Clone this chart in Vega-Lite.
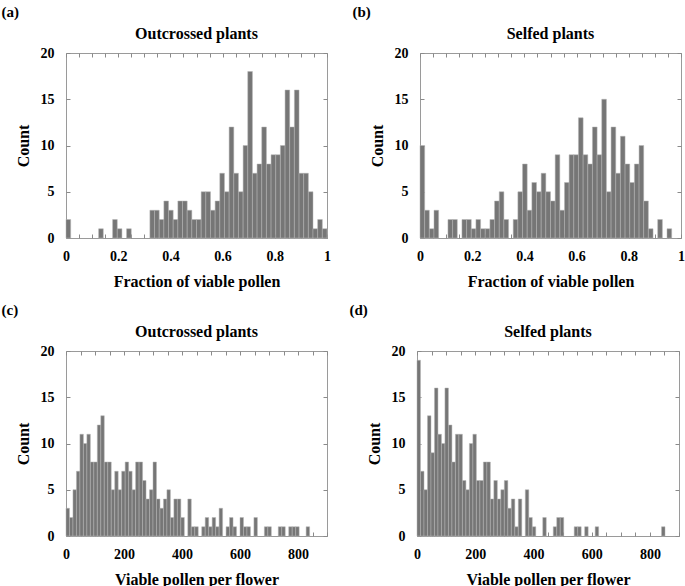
{
  "$schema": "https://vega.github.io/schema/vega-lite/v6.json",
  "background": "white",
  "padding": {"left": 1, "top": 4, "right": 1, "bottom": 0},
  "config": {
    "font": "Liberation Serif",
    "view": {"stroke": "#9a9a9a", "strokeWidth": 1},
    "scale": {"continuousPadding": 0},
    "axis": {
      "domain": false, "grid": false, "ticks": true, "tickSize": -4, "tickColor": "#8a8a8a", "tickWidth": 1,
      "labelFont": "Liberation Serif", "labelFontWeight": "bold", "labelFontSize": 14, "labelColor": "black",
      "labelOverlap": false, "labelFlush": false,
      "titleFont": "Liberation Serif", "titleFontWeight": "bold", "titleFontSize": 16, "titleColor": "black", "titlePadding": 9
    },
    "axisX": {"labelPadding": 15, "titlePadding": 10},
    "axisY": {"labelPadding": 16},
    "title": {"font": "Liberation Serif", "fontWeight": "bold", "fontSize": 16, "color": "black", "offset": 4},
    "bar": {"fill": "#767676", "stroke": "#b4b4b4", "strokeWidth": 0.5},
    "concat": {"spacing": 0}
  },
  "datasets": {
    "a": [
      {"lo":0,"hi":0.0179,"n":2},{"lo":0.125,"hi":0.1429,"n":1},{"lo":0.1786,"hi":0.1964,"n":2},{"lo":0.1964,"hi":0.2143,"n":1},{"lo":0.2321,"hi":0.25,"n":1},
      {"lo":0.3214,"hi":0.3393,"n":3},{"lo":0.3393,"hi":0.3571,"n":3},{"lo":0.3571,"hi":0.375,"n":2},{"lo":0.375,"hi":0.3929,"n":4},{"lo":0.3929,"hi":0.4107,"n":3},
      {"lo":0.4107,"hi":0.4286,"n":2},{"lo":0.4286,"hi":0.4464,"n":4},{"lo":0.4464,"hi":0.4643,"n":4},{"lo":0.4643,"hi":0.4821,"n":3},{"lo":0.4821,"hi":0.5,"n":2},
      {"lo":0.5,"hi":0.5179,"n":2},{"lo":0.5179,"hi":0.5357,"n":5},{"lo":0.5357,"hi":0.5536,"n":5},{"lo":0.5536,"hi":0.5714,"n":3},{"lo":0.5714,"hi":0.5893,"n":4},
      {"lo":0.5893,"hi":0.6071,"n":7},{"lo":0.6071,"hi":0.625,"n":5},{"lo":0.625,"hi":0.6429,"n":12},{"lo":0.6429,"hi":0.6607,"n":7},{"lo":0.6607,"hi":0.6786,"n":5},
      {"lo":0.6786,"hi":0.6964,"n":10},{"lo":0.6964,"hi":0.7143,"n":18},{"lo":0.7143,"hi":0.7321,"n":7},{"lo":0.7321,"hi":0.75,"n":8},{"lo":0.75,"hi":0.7679,"n":12},
      {"lo":0.7679,"hi":0.7857,"n":8},{"lo":0.7857,"hi":0.8036,"n":9},{"lo":0.8036,"hi":0.8214,"n":9},{"lo":0.8214,"hi":0.8393,"n":10},{"lo":0.8393,"hi":0.8571,"n":16},
      {"lo":0.8571,"hi":0.875,"n":12},{"lo":0.875,"hi":0.8929,"n":16},{"lo":0.8929,"hi":0.9107,"n":7},{"lo":0.9107,"hi":0.9286,"n":7},{"lo":0.9286,"hi":0.9464,"n":5},
      {"lo":0.9464,"hi":0.9643,"n":1},{"lo":0.9643,"hi":0.9821,"n":2},{"lo":0.9821,"hi":1,"n":1}
    ],
    "b": [
      {"lo":0,"hi":0.0179,"n":10},{"lo":0.0179,"hi":0.0357,"n":3},{"lo":0.0357,"hi":0.0536,"n":1},{"lo":0.0536,"hi":0.0714,"n":3},
      {"lo":0.1071,"hi":0.125,"n":2},{"lo":0.125,"hi":0.1429,"n":2},{"lo":0.1607,"hi":0.1786,"n":2},{"lo":0.1786,"hi":0.1964,"n":2},{"lo":0.1964,"hi":0.2143,"n":1},
      {"lo":0.2143,"hi":0.2321,"n":2},{"lo":0.2321,"hi":0.25,"n":1},{"lo":0.25,"hi":0.2679,"n":1},{"lo":0.2679,"hi":0.2857,"n":2},{"lo":0.2857,"hi":0.3036,"n":4},
      {"lo":0.3036,"hi":0.3214,"n":5},{"lo":0.3214,"hi":0.3393,"n":2},{"lo":0.3571,"hi":0.375,"n":2},{"lo":0.375,"hi":0.3929,"n":5},{"lo":0.3929,"hi":0.4107,"n":8},
      {"lo":0.4107,"hi":0.4286,"n":3},{"lo":0.4286,"hi":0.4464,"n":6},{"lo":0.4464,"hi":0.4643,"n":5},{"lo":0.4643,"hi":0.4821,"n":7},{"lo":0.4821,"hi":0.5,"n":5},
      {"lo":0.5,"hi":0.5179,"n":4},{"lo":0.5179,"hi":0.5357,"n":9},{"lo":0.5357,"hi":0.5536,"n":3},{"lo":0.5536,"hi":0.5714,"n":6},{"lo":0.5714,"hi":0.5893,"n":9},
      {"lo":0.5893,"hi":0.6071,"n":9},{"lo":0.6071,"hi":0.625,"n":13},{"lo":0.625,"hi":0.6429,"n":9},{"lo":0.6429,"hi":0.6607,"n":8},{"lo":0.6607,"hi":0.6786,"n":12},
      {"lo":0.6786,"hi":0.6964,"n":9},{"lo":0.6964,"hi":0.7143,"n":15},{"lo":0.7143,"hi":0.7321,"n":5},{"lo":0.7321,"hi":0.75,"n":12},{"lo":0.75,"hi":0.7679,"n":7},
      {"lo":0.7679,"hi":0.7857,"n":11},{"lo":0.7857,"hi":0.8036,"n":8},{"lo":0.8036,"hi":0.8214,"n":6},{"lo":0.8214,"hi":0.8393,"n":8},{"lo":0.8393,"hi":0.8571,"n":10},
      {"lo":0.8571,"hi":0.875,"n":4},{"lo":0.875,"hi":0.8929,"n":1},{"lo":0.9107,"hi":0.9286,"n":2},{"lo":0.9464,"hi":0.9643,"n":1}
    ],
    "c": [
      {"lo":0,"hi":12,"n":3},{"lo":12,"hi":24,"n":2},{"lo":24,"hi":36,"n":5},{"lo":36,"hi":48,"n":7},{"lo":48,"hi":60,"n":11},{"lo":60,"hi":72,"n":10},
      {"lo":72,"hi":84,"n":11},{"lo":84,"hi":96,"n":8},{"lo":96,"hi":108,"n":8},{"lo":108,"hi":120,"n":12},{"lo":120,"hi":132,"n":13},{"lo":132,"hi":144,"n":8},
      {"lo":144,"hi":156,"n":8},{"lo":156,"hi":168,"n":5},{"lo":168,"hi":180,"n":7},{"lo":180,"hi":192,"n":5},{"lo":192,"hi":204,"n":7},{"lo":204,"hi":216,"n":8},
      {"lo":216,"hi":228,"n":7},{"lo":228,"hi":240,"n":5},{"lo":240,"hi":252,"n":8},{"lo":252,"hi":264,"n":8},{"lo":264,"hi":276,"n":6},{"lo":276,"hi":288,"n":4},
      {"lo":288,"hi":300,"n":5},{"lo":300,"hi":312,"n":8},{"lo":312,"hi":324,"n":4},{"lo":324,"hi":336,"n":3},{"lo":336,"hi":348,"n":4},{"lo":348,"hi":360,"n":5},
      {"lo":360,"hi":372,"n":2},{"lo":372,"hi":384,"n":4},{"lo":384,"hi":396,"n":4},{"lo":396,"hi":408,"n":2},{"lo":420,"hi":432,"n":4},{"lo":432,"hi":444,"n":1},
      {"lo":444,"hi":456,"n":1},{"lo":468,"hi":480,"n":1},{"lo":480,"hi":492,"n":2},{"lo":492,"hi":504,"n":1},{"lo":504,"hi":516,"n":2},{"lo":516,"hi":528,"n":1},
      {"lo":528,"hi":540,"n":3},{"lo":552,"hi":564,"n":1},{"lo":564,"hi":576,"n":2},{"lo":576,"hi":588,"n":1},{"lo":600,"hi":612,"n":2},{"lo":612,"hi":624,"n":1},
      {"lo":624,"hi":636,"n":1},{"lo":648,"hi":660,"n":2},{"lo":684,"hi":696,"n":1},{"lo":696,"hi":708,"n":1},{"lo":732,"hi":744,"n":1},{"lo":744,"hi":756,"n":1},
      {"lo":768,"hi":780,"n":1},{"lo":780,"hi":792,"n":1},{"lo":792,"hi":804,"n":1},{"lo":828,"hi":840,"n":1}
    ],
    "d": [
      {"lo":0,"hi":12,"n":19},{"lo":12,"hi":24,"n":7},{"lo":24,"hi":36,"n":5},{"lo":36,"hi":48,"n":13},{"lo":48,"hi":60,"n":9},{"lo":60,"hi":72,"n":16},
      {"lo":72,"hi":84,"n":11},{"lo":84,"hi":96,"n":10},{"lo":96,"hi":108,"n":16},{"lo":108,"hi":120,"n":12},{"lo":120,"hi":132,"n":8},{"lo":132,"hi":144,"n":11},
      {"lo":144,"hi":156,"n":11},{"lo":156,"hi":168,"n":6},{"lo":168,"hi":180,"n":5},{"lo":180,"hi":192,"n":10},{"lo":192,"hi":204,"n":11},{"lo":204,"hi":216,"n":6},
      {"lo":216,"hi":228,"n":6},{"lo":228,"hi":240,"n":8},{"lo":240,"hi":252,"n":8},{"lo":252,"hi":264,"n":4},{"lo":264,"hi":276,"n":6},{"lo":276,"hi":288,"n":4},
      {"lo":288,"hi":300,"n":5},{"lo":300,"hi":312,"n":6},{"lo":312,"hi":324,"n":3},{"lo":324,"hi":336,"n":4},{"lo":336,"hi":348,"n":1},{"lo":348,"hi":360,"n":4},
      {"lo":372,"hi":384,"n":5},{"lo":384,"hi":396,"n":2},{"lo":396,"hi":408,"n":1},{"lo":432,"hi":444,"n":2},{"lo":468,"hi":480,"n":1},{"lo":480,"hi":492,"n":2},
      {"lo":492,"hi":504,"n":2},{"lo":540,"hi":552,"n":1},{"lo":552,"hi":564,"n":1},{"lo":576,"hi":588,"n":1},{"lo":612,"hi":624,"n":1},{"lo":840,"hi":852,"n":1}
    ]
  },
  "vconcat": [
    {
      "hconcat": [
        {
          "title": {"text": "(a)", "anchor": "start", "fontSize": 15, "offset": 6, "dx": -13},
          "vconcat": [{
            "title": "Outcrossed plants",
            "width": 261, "height": 185,
            "data": {"name": "a"},
            "layer": [
              {"mark": "bar", "encoding": {
                "x": {"field": "lo", "type": "quantitative", "scale": {"domain": [0, 1], "nice": false, "padding": 0},
                      "axis": {"orient": "bottom", "title": "Fraction of viable pollen", "values": [0,0.05,0.1,0.15,0.2,0.25,0.3,0.35,0.4,0.45,0.5,0.55,0.6,0.65,0.7,0.75,0.8,0.85,0.9,0.95,1],
                               "labelExpr": "round(datum.value*100) % 20 == 0 ? format(datum.value, '~g') : ''"}},
                "x2": {"field": "hi"},
                "y": {"field": "n", "type": "quantitative", "scale": {"domain": [0, 20], "nice": false, "padding": 0},
                      "axis": {"orient": "left", "title": "Count", "values": [0,5,10,15,20]}},
                "y2": {"datum": 0}
              }},
              {"mark": {"type": "bar", "opacity": 0}, "encoding": {
                "x": {"field": "lo", "type": "quantitative", "scale": {"domain": [0, 1], "nice": false, "padding": 0}, "axis": {"orient": "top", "title": null, "labels": false, "values": [0,0.05,0.1,0.15,0.2,0.25,0.3,0.35,0.4,0.45,0.5,0.55,0.6,0.65,0.7,0.75,0.8,0.85,0.9,0.95,1]}},
                "x2": {"field": "hi"},
                "y": {"field": "n", "type": "quantitative", "scale": {"domain": [0, 20], "nice": false, "padding": 0}, "axis": {"orient": "right", "title": null, "labels": false, "values": [0,5,10,15,20]}},
                "y2": {"datum": 0}
              }}
            ],
            "resolve": {"axis": {"x": "independent", "y": "independent"}}
          }]
        },
        {
          "title": {"text": "(b)", "anchor": "start", "fontSize": 15, "offset": 6, "dx": -16},
          "vconcat": [{
            "title": "Selfed plants",
            "width": 261, "height": 185,
            "data": {"name": "b"},
            "layer": [
              {"mark": "bar", "encoding": {
                "x": {"field": "lo", "type": "quantitative", "scale": {"domain": [0, 1], "nice": false, "padding": 0},
                      "axis": {"orient": "bottom", "title": "Fraction of viable pollen", "values": [0,0.05,0.1,0.15,0.2,0.25,0.3,0.35,0.4,0.45,0.5,0.55,0.6,0.65,0.7,0.75,0.8,0.85,0.9,0.95,1],
                               "labelExpr": "round(datum.value*100) % 20 == 0 ? format(datum.value, '~g') : ''"}},
                "x2": {"field": "hi"},
                "y": {"field": "n", "type": "quantitative", "scale": {"domain": [0, 20], "nice": false, "padding": 0},
                      "axis": {"orient": "left", "title": "Count", "values": [0,5,10,15,20]}},
                "y2": {"datum": 0}
              }},
              {"mark": {"type": "bar", "opacity": 0}, "encoding": {
                "x": {"field": "lo", "type": "quantitative", "scale": {"domain": [0, 1], "nice": false, "padding": 0}, "axis": {"orient": "top", "title": null, "labels": false, "values": [0,0.05,0.1,0.15,0.2,0.25,0.3,0.35,0.4,0.45,0.5,0.55,0.6,0.65,0.7,0.75,0.8,0.85,0.9,0.95,1]}},
                "x2": {"field": "hi"},
                "y": {"field": "n", "type": "quantitative", "scale": {"domain": [0, 20], "nice": false, "padding": 0}, "axis": {"orient": "right", "title": null, "labels": false, "values": [0,5,10,15,20]}},
                "y2": {"datum": 0}
              }}
            ],
            "resolve": {"axis": {"x": "independent", "y": "independent"}}
          }]
        }
      ],
      "spacing": 21
    },
    {
      "hconcat": [
        {
          "title": {"text": "(c)", "anchor": "start", "fontSize": 15, "offset": 6, "dx": -13},
          "vconcat": [{
            "title": "Outcrossed plants",
            "width": 261, "height": 185,
            "data": {"name": "c"},
            "layer": [
              {"mark": "bar", "encoding": {
                "x": {"field": "lo", "type": "quantitative", "scale": {"domain": [0, 900], "nice": false, "padding": 0},
                      "axis": {"orient": "bottom", "title": "Viable pollen per flower", "values": [0,50,100,150,200,250,300,350,400,450,500,550,600,650,700,750,800,850,900],
                               "labelExpr": "datum.value % 200 == 0 ? format(datum.value, '~g') : ''"}},
                "x2": {"field": "hi"},
                "y": {"field": "n", "type": "quantitative", "scale": {"domain": [0, 20], "nice": false, "padding": 0},
                      "axis": {"orient": "left", "title": "Count", "values": [0,5,10,15,20]}},
                "y2": {"datum": 0}
              }},
              {"mark": {"type": "bar", "opacity": 0}, "encoding": {
                "x": {"field": "lo", "type": "quantitative", "scale": {"domain": [0, 900], "nice": false, "padding": 0}, "axis": {"orient": "top", "title": null, "labels": false, "values": [0,50,100,150,200,250,300,350,400,450,500,550,600,650,700,750,800,850,900]}},
                "x2": {"field": "hi"},
                "y": {"field": "n", "type": "quantitative", "scale": {"domain": [0, 20], "nice": false, "padding": 0}, "axis": {"orient": "right", "title": null, "labels": false, "values": [0,5,10,15,20]}},
                "y2": {"datum": 0}
              }}
            ],
            "resolve": {"axis": {"x": "independent", "y": "independent"}}
          }]
        },
        {
          "title": {"text": "(d)", "anchor": "start", "fontSize": 15, "offset": 6, "dx": -16},
          "vconcat": [{
            "title": "Selfed plants",
            "width": 262, "height": 185,
            "data": {"name": "d"},
            "layer": [
              {"mark": "bar", "encoding": {
                "x": {"field": "lo", "type": "quantitative", "scale": {"domain": [0, 900], "nice": false, "padding": 0},
                      "axis": {"orient": "bottom", "title": "Viable pollen per flower", "values": [0,50,100,150,200,250,300,350,400,450,500,550,600,650,700,750,800,850,900],
                               "labelExpr": "datum.value % 200 == 0 ? format(datum.value, '~g') : ''"}},
                "x2": {"field": "hi"},
                "y": {"field": "n", "type": "quantitative", "scale": {"domain": [0, 20], "nice": false, "padding": 0},
                      "axis": {"orient": "left", "title": "Count", "values": [0,5,10,15,20]}},
                "y2": {"datum": 0}
              }},
              {"mark": {"type": "bar", "opacity": 0}, "encoding": {
                "x": {"field": "lo", "type": "quantitative", "scale": {"domain": [0, 900], "nice": false, "padding": 0}, "axis": {"orient": "top", "title": null, "labels": false, "values": [0,50,100,150,200,250,300,350,400,450,500,550,600,650,700,750,800,850,900]}},
                "x2": {"field": "hi"},
                "y": {"field": "n", "type": "quantitative", "scale": {"domain": [0, 20], "nice": false, "padding": 0}, "axis": {"orient": "right", "title": null, "labels": false, "values": [0,5,10,15,20]}},
                "y2": {"datum": 0}
              }}
            ],
            "resolve": {"axis": {"x": "independent", "y": "independent"}}
          }]
        }
      ],
      "spacing": 21
    }
  ],
  "spacing": 12
}
